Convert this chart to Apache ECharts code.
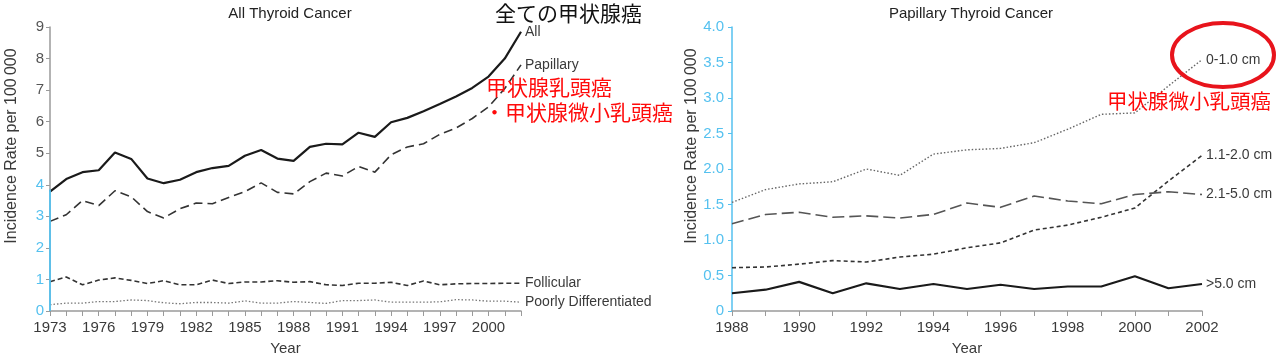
<!DOCTYPE html>
<html>
<head>
<meta charset="utf-8">
<script src="https://cdn.jsdelivr.net/npm/echarts@6/dist/echarts.min.js"></script>
<style>html,body{margin:0;padding:0;background:#fff}#c{width:1280px;height:361px}</style>
</head>
<body>
<div id="c"></div>
<script>
// ---- data ----
const yearsAll = ['1973','1974','1975','1976','1977','1978','1979','1980','1981','1982','1983','1984','1985','1986','1987','1988','1989','1990','1991','1992','1993','1994','1995','1996','1997','1998','1999','2000','2001','2002'];
const allRate = [3.78,4.18,4.4,4.46,5.02,4.82,4.2,4.05,4.16,4.4, 4.53,4.6,4.92,5.1,4.83,4.76,5.2,5.3,5.28,5.65, 5.52,5.98,6.12,6.33,6.56,6.8,7.07,7.43,8.0,8.85];
const papillaryRate = [2.84,3.05,3.5,3.34,3.81,3.62,3.15,2.95,3.24,3.42, 3.4,3.6,3.78,4.06,3.76,3.71,4.1,4.37,4.28,4.58, 4.4,4.95,5.2,5.3,5.6,5.8,6.1,6.47,7.05,7.8];
const follicularRate = [0.93,1.08,0.83,0.98,1.05,0.97,0.87,0.96,0.83,0.83, 0.98,0.87,0.92,0.92,0.96,0.91,0.93,0.83,0.81,0.88, 0.88,0.91,0.81,0.95,0.83,0.86,0.87,0.87,0.88,0.88];
const poorlyRate = [0.2,0.25,0.25,0.3,0.3,0.35,0.33,0.26,0.23,0.27, 0.27,0.25,0.32,0.25,0.25,0.3,0.27,0.24,0.33,0.33, 0.35,0.28,0.28,0.28,0.29,0.36,0.35,0.31,0.31,0.28];

const yearsPap = ['1988','1989','1990','1991','1992','1993','1994','1995','1996','1997','1998','1999','2000','2001','2002'];
const size0to1 = [1.53,1.71,1.79,1.82,2.0,1.91,2.21,2.27,2.29,2.37,2.56,2.77,2.79,3.17,3.54];
const size1to2 = [0.61,0.62,0.66,0.71,0.69,0.76,0.8,0.89,0.96,1.14,1.21,1.32,1.45,1.83,2.19];
const size2to5 = [1.23,1.36,1.39,1.32,1.34,1.31,1.36,1.52,1.46,1.62,1.55,1.51,1.64,1.68,1.64];
const sizeOver5 = [0.25,0.3,0.41,0.25,0.39,0.31,0.38,0.31,0.37,0.31,0.345,0.345,0.49,0.32,0.38];

const leftTitle = 'All Thyroid Cancer';
const rightTitle = 'Papillary Thyroid Cancer';
const yName = 'Incidence Rate per 100\u2009000';
const xName = 'Year';

// ---- style ----
const FONT = '"Liberation Sans", Arial, Helvetica, sans-serif';
const JP = '"Noto Sans CJK JP", sans-serif';
const BLUE = '#55c1ef';
const GREY = '#9a9a9a';
const TXT = '#3a3a3a';

const chart = echarts.init(document.getElementById('c'), null, {renderer: 'canvas'});

function lineSeries(name, data, xi, lineStyle, label) {
  return {
    type: 'line', name: name, data: data, xAxisIndex: xi, yAxisIndex: xi,
    symbol: 'none', smooth: false, animation: false,
    lineStyle: lineStyle,
    endLabel: { show: true, formatter: label, color: TXT, fontFamily: FONT, fontSize: 14, distance: 4 }
  };
}

const option = {
  animation: false,
  backgroundColor: '#fff',
  title: [
    { text: leftTitle, left: 285, top: 1, textAlign: 'center', textStyle: { fontFamily: FONT, fontSize: 15, fontWeight: 'normal', color: '#222' } },
    { text: rightTitle, left: 966, top: 1, textAlign: 'center', textStyle: { fontFamily: FONT, fontSize: 15, fontWeight: 'normal', color: '#222' } }
  ],
  grid: [
    { left: 50, right: 759, top: 27, bottom: 48, containLabel: false },
    { left: 732, right: 78, top: 27, bottom: 48, containLabel: false }
  ],
  xAxis: [
    {
      type: 'category', gridIndex: 0, data: yearsAll, boundaryGap: false,
      name: xName, nameLocation: 'middle', nameGap: 30,
      nameTextStyle: { fontFamily: FONT, fontSize: 15, color: TXT },
      axisLine: { lineStyle: { color: GREY, width: 1.5 } },
      axisTick: { show: true, interval: 0, length: 5, lineStyle: { color: GREY } },
      axisLabel: { interval: 2, fontFamily: FONT, fontSize: 15, color: TXT, margin: 9 }
    },
    {
      type: 'category', gridIndex: 1, data: yearsPap, boundaryGap: false,
      name: xName, nameLocation: 'middle', nameGap: 30,
      nameTextStyle: { fontFamily: FONT, fontSize: 15, color: TXT },
      axisLine: { lineStyle: { color: GREY, width: 1.5 } },
      axisTick: { show: true, interval: 0, length: 5, lineStyle: { color: GREY } },
      axisLabel: { interval: 1, fontFamily: FONT, fontSize: 15, color: TXT, margin: 9 }
    }
  ],
  yAxis: [
    {
      type: 'value', gridIndex: 0, min: 0, max: 9, interval: 1,
      name: yName, nameLocation: 'middle', nameGap: 30,
      nameTextStyle: { fontFamily: FONT, fontSize: 16, color: TXT, padding: [0, 0, 0, 46] },
      splitLine: { show: false },
      axisLine: { show: true, lineStyle: { color: GREY, width: 1.5 } },
      axisTick: { show: true, length: 4, lineStyle: { color: GREY } },
      axisLabel: { fontFamily: FONT, fontSize: 15, margin: 6, color: function (v) { return v <= 4 ? BLUE : '#555'; } }
    },
    {
      type: 'value', gridIndex: 1, min: 0, max: 4, interval: 0.5,
      name: yName, nameLocation: 'middle', nameGap: 30,
      nameTextStyle: { fontFamily: FONT, fontSize: 16, color: TXT, padding: [0, 0, 0, 46] },
      splitLine: { show: false },
      axisLine: { show: true, lineStyle: { color: BLUE, width: 1.5 } },
      axisTick: { show: true, length: 4, lineStyle: { color: BLUE } },
      axisLabel: { fontFamily: FONT, fontSize: 15, margin: 8, color: BLUE,
        formatter: function (v) { return v === 0 ? '0' : v.toFixed(1); } }
    }
  ],
  series: [
    lineSeries('All', allRate, 0, { color: '#1a1a1a', width: 2.2, type: 'solid' }, 'All'),
    lineSeries('Papillary', papillaryRate, 0, { color: '#333', width: 1.6, type: [9, 5] }, 'Papillary'),
    lineSeries('Follicular', follicularRate, 0, { color: '#333', width: 1.6, type: [5, 3] }, 'Follicular'),
    lineSeries('Poorly Differentiated', poorlyRate, 0, { color: '#777', width: 1.3, type: [1.5, 2] }, 'Poorly Differentiated'),
    lineSeries('0-1.0 cm', size0to1, 1, { color: '#666', width: 1.4, type: [1.5, 2] }, '0-1.0 cm'),
    lineSeries('1.1-2.0 cm', size1to2, 1, { color: '#333', width: 1.6, type: [4, 3] }, '1.1-2.0 cm'),
    lineSeries('2.1-5.0 cm', size2to5, 1, { color: '#555', width: 1.6, type: [12, 5] }, '2.1-5.0 cm'),
    lineSeries('>5.0 cm', sizeOver5, 1, { color: '#1a1a1a', width: 2.2, type: 'solid' }, '>5.0 cm')
  ]
};
chart.setOption(option);

// decorative overlays: blue segment on the left y-axis, Japanese annotations, red ellipse
const pA = chart.convertToPixel({ xAxisIndex: 0, yAxisIndex: 0 }, [yearsAll[0], 0]);
const pB = chart.convertToPixel({ xAxisIndex: 0, yAxisIndex: 0 }, [yearsAll[0], allRate[0] + 0.07]);
chart.setOption({
  graphic: [
    { type: 'line', shape: { x1: pA[0], y1: pA[1], x2: pB[0], y2: pB[1] }, style: { stroke: BLUE, lineWidth: 1.8 }, z: 10 },
    { type: 'text', left: 495, top: 3, style: { text: '全ての甲状腺癌', font: '21px ' + JP, fill: '#111' }, z: 20 },
    { type: 'text', left: 486, top: 77, style: { text: '甲状腺乳頭癌', font: '21px ' + JP, fill: '#ff0a0a' }, z: 20 },
    { type: 'text', left: 484, top: 102, style: { text: '・甲状腺微小乳頭癌', font: '21px ' + JP, fill: '#ff0a0a' }, z: 20 },
    { type: 'text', left: 1107, top: 91, style: { text: '甲状腺微小乳頭癌', font: '20.5px ' + JP, fill: '#ff0a0a' }, z: 20 },
    { type: 'ellipse', shape: { cx: 1223, cy: 55, rx: 51, ry: 32 }, style: { fill: 'none', stroke: '#e8141c', lineWidth: 4 }, z: 20 }
  ]
});
</script>
</body>
</html>
